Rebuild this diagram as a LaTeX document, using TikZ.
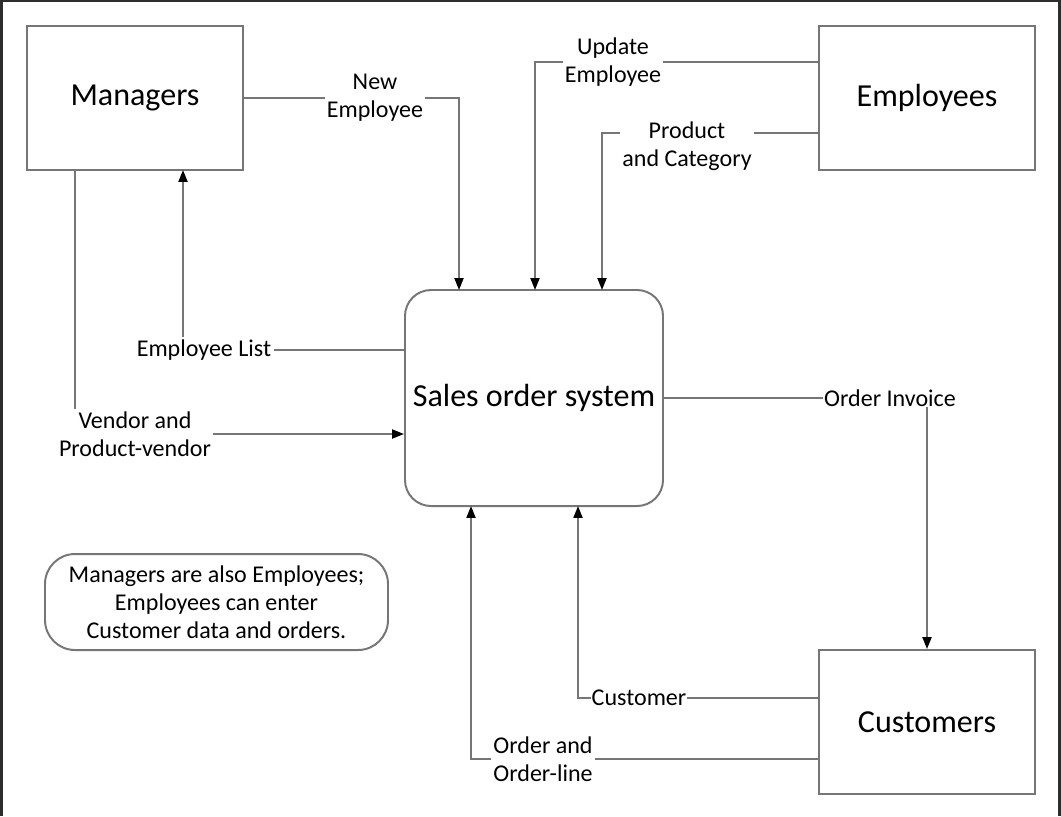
\documentclass[tikz,border=0pt]{standalone}
\usepackage{fontspec}
\setmainfont{Carlito}
\usetikzlibrary{arrows.meta}
\definecolor{lineg}{RGB}{118,118,118}
\definecolor{frameg}{RGB}{45,45,45}
\newcommand{\smallfnt}{\fontsize{17.1}{19.9}\selectfont}
\newcommand{\bigfnt}{\fontsize{22.8}{26}\selectfont}

\begin{document}
\begin{tikzpicture}[x=0.25mm, y=-0.25mm, line width=1.4pt]
      \tikzstyle{every node}=[font=\smallfnt, text=black]
      \tikzstyle{entity}=[draw=lineg, minimum width=54mm, minimum height=36mm, font=\bigfnt]
      \tikzstyle{process}=[draw=lineg, rounded corners=6.5mm, minimum width=64.5mm, minimum height=54mm, font=\bigfnt]
      \tikzstyle{lbl}=[align=center, inner sep=1pt]
      \tikzstyle{flow}=[draw=lineg, -{Triangle[length=8.5pt, width=6.4pt, color=black]}]
      \useasboundingbox (0,0) rectangle (1061,816);
      % frame of the screenshot
      \fill[frameg] (0,0) rectangle (3,816);
      \fill[frameg] (0,0) rectangle (1061,2);
      \fill[frameg] (1058,0) rectangle (1061,816);
      % entities and the process
      \node [entity] (mgr) at (135, 98) {Managers};
      \node [entity] (emp) at (927, 98) {Employees};
      \node [entity] (cust) at (927, 722) {Customers};
      \node [process] (sys) at (534, 398) {Sales order system};
      \node [draw=lineg, rounded corners=7.5mm, minimum width=85.75mm, minimum height=24mm, align=center] (note) at (216.5, 602) {Managers are also Employees;\\Employees can enter\\Customer data and orders.};
      % ends of the flows
      \coordinate (s1) at (459, 290);
      \coordinate (s2) at (535, 290);
      \coordinate (s3) at (602, 290);
      \coordinate (s4) at (578, 506);
      \coordinate (s5) at (471, 506);
      \coordinate (m1) at (75, 170);
      \coordinate (m2) at (183, 170);
      \coordinate (e1) at (819, 133);
      % flow labels
      \node [lbl] (newemp) at (375, 98) {New\\Employee};
      \node [lbl] (updemp) at (613, 62) {Update\\Employee};
      \node [lbl] (prodcat) at (687, 146) {Product\\and Category};
      \node [lbl] (emplist) at (204, 350) {Employee List};
      \node [lbl] (vendor) at (135, 434) {Vendor and\\Product-vendor};
      \node [lbl, inner sep=0pt] (invoice) at (890, 398) {Order Invoice};
      \node [lbl, inner sep=0pt] (custl) at (639, 698) {Customer};
      \node [lbl] (order) at (543, 759) {Order and\\Order-line};
      % flows
      \draw [draw=lineg] (mgr.east) -- (newemp.west);
      \draw [flow] (newemp.east) -| (s1);
      \draw [draw=lineg] (updemp.east -| emp.west) -- (updemp.east);
      \draw [flow] (updemp.west) -| (s2);
      \draw [draw=lineg] (e1) -- (e1 -| prodcat.east);
      \draw [flow] (e1 -| prodcat.west) -| (s3);
      \draw [draw=lineg] (emplist.east -| sys.west) -- (emplist.east);
      \draw [flow] (emplist.north -| m2) -- (m2);
      \draw [draw=lineg] (m1) -- (vendor.north -| m1);
      \draw [flow] (vendor.east) -- (vendor.east -| sys.west);
      \draw [draw=lineg] (sys.east) -- (invoice.west);
      \draw [flow] (invoice.south -| cust.north) -- (cust.north);
      \draw [draw=lineg] (custl.east -| cust.west) -- (custl.east);
      \draw [flow] (custl.west) -| (s4);
      \draw [draw=lineg] (order.east -| cust.west) -- (order.east);
      \draw [flow] (order.west) -| (s5);
\end{tikzpicture}
\end{document}
